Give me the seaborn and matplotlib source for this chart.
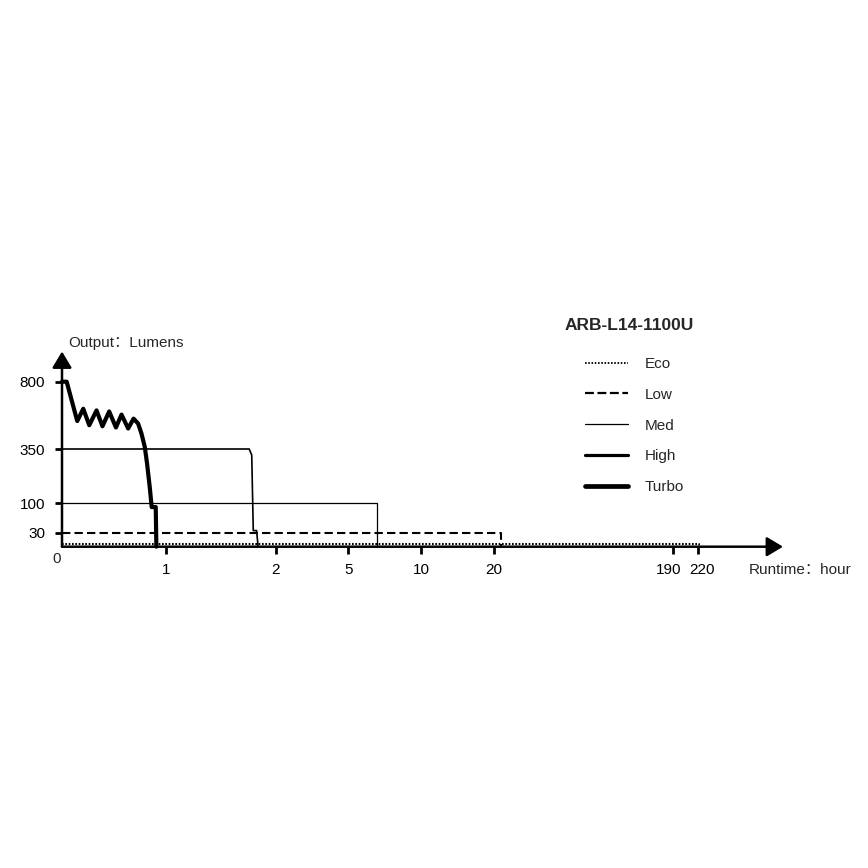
import numpy as np
import pandas as pd
import matplotlib
matplotlib.use("Agg")
import matplotlib.pyplot as plt
import matplotlib.transforms as mtransforms
from matplotlib.lines import Line2D
import seaborn as sns

# ---------------- data ----------------
modes = ["Eco", "Low", "Med", "High", "Turbo"]

eco_h = [0, 222, 222]
eco_lm = [5, 5, 0]

low_h = [0, 27, 27]
low_lm = [30, 30, 0]

med_h = [0, 7, 7]
med_lm = [100, 100, 0]

high_h = [0, 1.757, 1.78, 1.794, 1.824, 1.838]
high_lm = [350, 350, 322, 35, 35, 0]

turbo_h = [0, 0.045, 0.147, 0.205, 0.263, 0.333, 0.39, 0.455, 0.52, 0.574,
           0.638, 0.69, 0.734, 0.766, 0.798, 0.82, 0.846, 0.865, 0.904, 0.91]
turbo_lm = [800, 800, 537, 619, 509, 608, 502, 601, 494, 580,
            487, 553, 520, 454, 365, 284, 175, 91, 91, 0]

x_tick_hours = [1, 2, 5, 10, 20, 190, 220]
x_tick_labels = ["1", "2", "5", "10", "20", "190", "220"]
y_tick_values = [30, 100, 350, 800]
y_tick_labels = ["30", "100", "350", "800"]

title = "ARB-L14-1100U"
x_label = "Runtime：hour"
y_label = "Output：Lumens"

# ---------------- layout (pixel geometry of the nonlinear axes) ----------------
W = H = 868
X0, XTIP = 62, 783
Y0, YTIP = 546.7, 351.5
x_anchor_vals = [0, 1, 2, 5, 10, 20, 190, 220]
x_anchor_pos = [0, 103.7, 214, 286.2, 359.4, 431.8, 610.7, 635.7]
y_anchor_vals = [0, 30, 100, 350, 800]
y_anchor_pos = [0, 14, 43.4, 97.7, 165]


def piecewise(vals, pos):
    vals = np.asarray(vals, float)
    pos = np.asarray(pos, float)

    def _map(v, a, b):
        v = np.asarray(v, float)
        out = np.interp(v, a, b)
        hi = (b[-1] - b[-2]) / (a[-1] - a[-2])
        lo = (b[1] - b[0]) / (a[1] - a[0])
        out = np.where(v > a[-1], b[-1] + (v - a[-1]) * hi, out)
        out = np.where(v < a[0], b[0] + (v - a[0]) * lo, out)
        return out

    return (lambda v: _map(v, vals, pos)), (lambda p: _map(p, pos, vals))


xf, xi = piecewise(x_anchor_vals, x_anchor_pos)
yf, yi = piecewise(y_anchor_vals, y_anchor_pos)

sns.set_style("white")
plt.rcParams["font.family"] = ["Liberation Sans", "Noto Sans CJK SC", "DejaVu Sans"]

fig = plt.figure(figsize=(W / 100, H / 100), dpi=100)
ax = fig.add_axes([X0 / W, (H - Y0) / H, (XTIP - X0) / W, (Y0 - YTIP) / H])
ax.set_xscale("function", functions=(xf, xi))
ax.set_yscale("function", functions=(yf, yi))

styles = {
    "Eco": dict(lw=1.5, ls=(0, (0.8, 0.8))),
    "Low": dict(lw=1.5, ls=(0, (4, 2))),
    "Med": dict(lw=0.9, ls="-"),
    "High": dict(lw=1.2, ls="-"),
    "Turbo": dict(lw=3.0, ls="-"),
}
series = {
    "Eco": (eco_h, eco_lm),
    "Low": (low_h, low_lm),
    "Med": (med_h, med_lm),
    "High": (high_h, high_lm),
    "Turbo": (turbo_h, turbo_lm),
}
for m in modes:
    h, lm = series[m]
    sns.lineplot(x=h, y=lm, sort=False, estimator=None, color="black",
                 linewidth=styles[m]["lw"], linestyle=styles[m]["ls"],
                 ax=ax, legend=False, clip_on=False)

ax.set_xlim(0, float(xi(XTIP - X0)))
ax.set_ylim(0, float(yi(Y0 - YTIP)))
for s in ax.spines.values():
    s.set_visible(False)

# axes with arrows
for tip in [(1, 0), (0, 1)]:
    ax.annotate("", xy=tip, xytext=(0, 0), xycoords="axes fraction",
                arrowprops=dict(arrowstyle="-|>,head_length=0.45,head_width=0.27",
                                lw=1.8, color="black",
                                mutation_scale=22, shrinkA=0, shrinkB=0))

tfs = 11
ax.set_xticks(x_tick_hours)
ax.set_xticklabels(x_tick_labels)
ax.set_yticks(y_tick_values)
ax.set_yticklabels(y_tick_labels)
ax.minorticks_off()
ax.tick_params(axis="x", direction="out", length=5, width=2, pad=7,
               labelsize=tfs, colors="black", bottom=True)
ax.tick_params(axis="y", direction="out", length=5, width=2, pad=7,
               labelsize=tfs, colors="black", left=True)
ax.grid(False)
ax.set_facecolor("none")

# nudge the two crowded labels apart like the reference
for lab in ax.get_xticklabels():
    t = lab.get_text()
    if t == "190":
        lab.set_transform(lab.get_transform() +
                          mtransforms.ScaledTranslation(-4 / 100, 0, fig.dpi_scale_trans))
    elif t == "220":
        lab.set_transform(lab.get_transform() +
                          mtransforms.ScaledTranslation(4 / 100, 0, fig.dpi_scale_trans))

fig.text(57 / W, 1 - 559 / H, "0", ha="center", va="center", fontsize=tfs)
fig.text(68 / W, 1 - 343 / H, y_label, ha="left", va="center", fontsize=tfs)
fig.text(749 / W, 1 - 570 / H, x_label, ha="left", va="center", fontsize=tfs)
fig.text(565 / W, 1 - 325 / H, title, ha="left", va="center",
         fontsize=12.5, fontweight="bold")

handles = [
    Line2D([], [], color="black", lw=1.3, ls=(0, (0.9, 0.9))),
    Line2D([], [], color="black", lw=1.6, ls=(0, (4, 1.6))),
    Line2D([], [], color="black", lw=0.9),
    Line2D([], [], color="black", lw=2.3),
    Line2D([], [], color="black", lw=3.4),
]
fs = 11
fpx = fs * 100 / 72
leg = fig.legend(handles, modes, loc="upper left",
                 bbox_to_anchor=(585 / W, 1 - 357 / H),
                 frameon=False, fontsize=fs, handlelength=43 / fpx,
                 handletextpad=17 / fpx, labelspacing=1.1, borderpad=0,
                 borderaxespad=0)

fig.savefig("out.png", dpi=100, facecolor="white")
